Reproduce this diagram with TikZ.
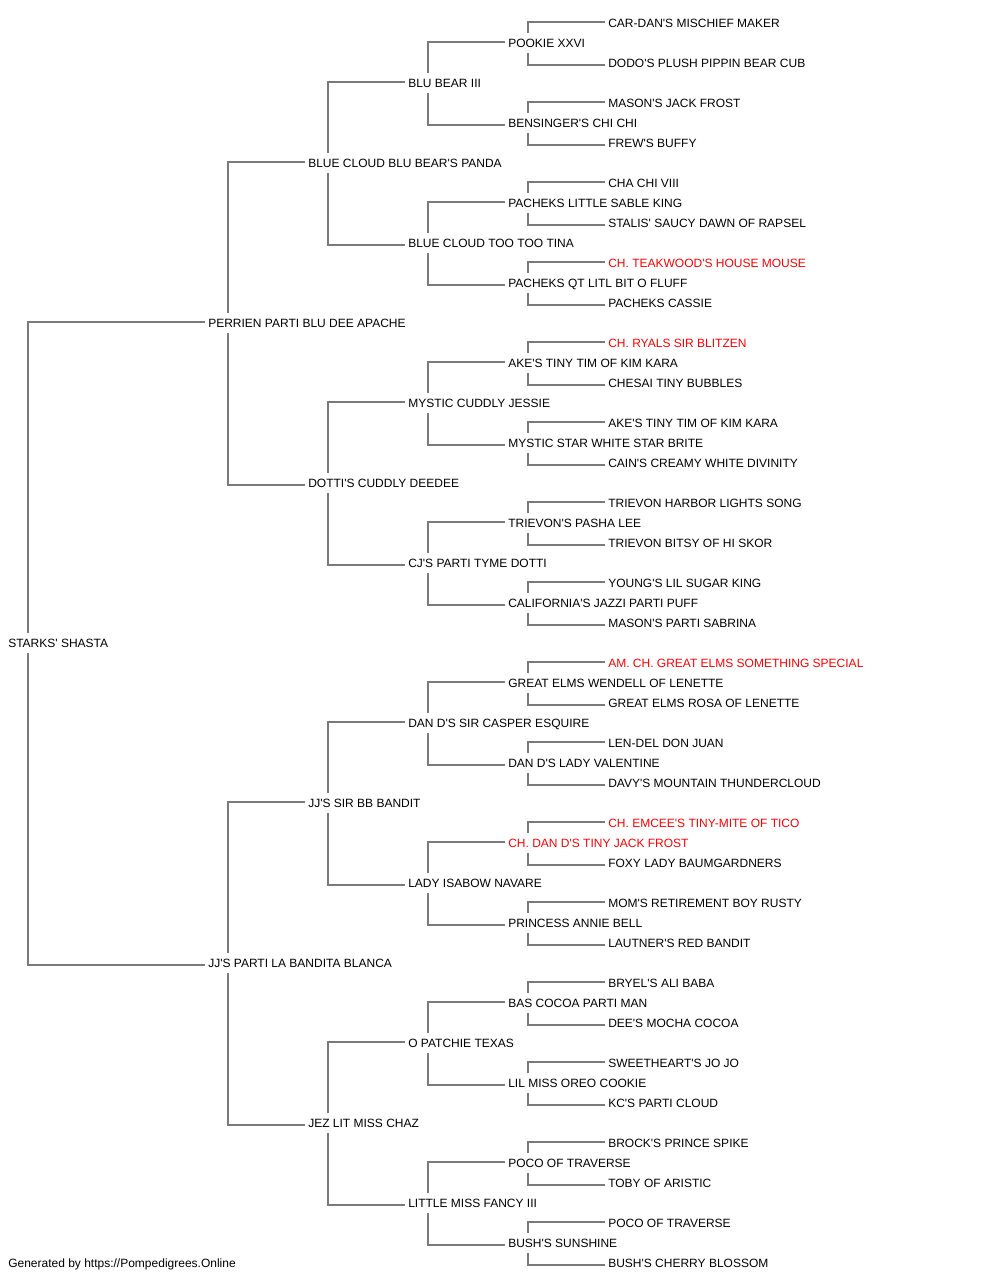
\documentclass[tikz,border=0pt]{standalone}
\usepackage{fontspec}
\setmainfont{Liberation Sans}[Ligatures=TeXOff]
\usetikzlibrary{calc}
\tikzset{
  pname/.style={anchor=west, inner sep=0pt, text height=6.45pt, text depth=0pt, font=\fontsize{9}{10}\selectfont},
  pred/.style={pname, text=red},
  conn/.style={draw=black!52, line width=1.1pt}
}
\begin{document}
\begin{tikzpicture}[x=0.75pt, y=-0.75pt]
\useasboundingbox (0,0) rectangle (1000,1280);
% generation 0
\node[pname] (r) at (8,643) {STARKS' SHASTA};
% generation 1
\node[pname] (r0) at (208,323) {PERRIEN PARTI BLU DEE APACHE};
\node[pname] (r1) at (208,963) {JJ'S PARTI LA BANDITA BLANCA};
% generation 2
\node[pname] (r00) at (308,163) {BLUE CLOUD BLU BEAR'S PANDA};
\node[pname] (r01) at (308,483) {DOTTI'S CUDDLY DEEDEE};
\node[pname] (r10) at (308,803) {JJ'S SIR BB BANDIT};
\node[pname] (r11) at (308,1123) {JEZ LIT MISS CHAZ};
% generation 3
\node[pname] (r000) at (408,83) {BLU BEAR III};
\node[pname] (r001) at (408,243) {BLUE CLOUD TOO TOO TINA};
\node[pname] (r010) at (408,403) {MYSTIC CUDDLY JESSIE};
\node[pname] (r011) at (408,563) {CJ'S PARTI TYME DOTTI};
\node[pname] (r100) at (408,723) {DAN D'S SIR CASPER ESQUIRE};
\node[pname] (r101) at (408,883) {LADY ISABOW NAVARE};
\node[pname] (r110) at (408,1043) {O PATCHIE TEXAS};
\node[pname] (r111) at (408,1203) {LITTLE MISS FANCY III};
% generation 4
\node[pname] (r0000) at (508,43) {POOKIE XXVI};
\node[pname] (r0001) at (508,123) {BENSINGER'S CHI CHI};
\node[pname] (r0010) at (508,203) {PACHEKS LITTLE SABLE KING};
\node[pname] (r0011) at (508,283) {PACHEKS QT LITL BIT O FLUFF};
\node[pname] (r0100) at (508,363) {AKE'S TINY TIM OF KIM KARA};
\node[pname] (r0101) at (508,443) {MYSTIC STAR WHITE STAR BRITE};
\node[pname] (r0110) at (508,523) {TRIEVON'S PASHA LEE};
\node[pname] (r0111) at (508,603) {CALIFORNIA'S JAZZI PARTI PUFF};
\node[pname] (r1000) at (508,683) {GREAT ELMS WENDELL OF LENETTE};
\node[pname] (r1001) at (508,763) {DAN D'S LADY VALENTINE};
\node[pred]  (r1010) at (508,843) {CH. DAN D'S TINY JACK FROST};
\node[pname] (r1011) at (508,923) {PRINCESS ANNIE BELL};
\node[pname] (r1100) at (508,1003) {BAS COCOA PARTI MAN};
\node[pname] (r1101) at (508,1083) {LIL MISS OREO COOKIE};
\node[pname] (r1110) at (508,1163) {POCO OF TRAVERSE};
\node[pname] (r1111) at (508,1243) {BUSH'S SUNSHINE};
% generation 5
\node[pname] (r00000) at (608,23) {CAR-DAN'S MISCHIEF MAKER};
\node[pname] (r00001) at (608,63) {DODO'S PLUSH PIPPIN BEAR CUB};
\node[pname] (r00010) at (608,103) {MASON'S JACK FROST};
\node[pname] (r00011) at (608,143) {FREW'S BUFFY};
\node[pname] (r00100) at (608,183) {CHA CHI VIII};
\node[pname] (r00101) at (608,223) {STALIS' SAUCY DAWN OF RAPSEL};
\node[pred]  (r00110) at (608,263) {CH. TEAKWOOD'S HOUSE MOUSE};
\node[pname] (r00111) at (608,303) {PACHEKS CASSIE};
\node[pred]  (r01000) at (608,343) {CH. RYALS SIR BLITZEN};
\node[pname] (r01001) at (608,383) {CHESAI TINY BUBBLES};
\node[pname] (r01010) at (608,423) {AKE'S TINY TIM OF KIM KARA};
\node[pname] (r01011) at (608,463) {CAIN'S CREAMY WHITE DIVINITY};
\node[pname] (r01100) at (608,503) {TRIEVON HARBOR LIGHTS SONG};
\node[pname] (r01101) at (608,543) {TRIEVON BITSY OF HI SKOR};
\node[pname] (r01110) at (608,583) {YOUNG'S LIL SUGAR KING};
\node[pname] (r01111) at (608,623) {MASON'S PARTI SABRINA};
\node[pred]  (r10000) at (608,663) {AM. CH. GREAT ELMS SOMETHING SPECIAL};
\node[pname] (r10001) at (608,703) {GREAT ELMS ROSA OF LENETTE};
\node[pname] (r10010) at (608,743) {LEN-DEL DON JUAN};
\node[pname] (r10011) at (608,783) {DAVY'S MOUNTAIN THUNDERCLOUD};
\node[pred]  (r10100) at (608,823) {CH. EMCEE'S TINY-MITE OF TICO};
\node[pname] (r10101) at (608,863) {FOXY LADY BAUMGARDNERS};
\node[pname] (r10110) at (608,903) {MOM'S RETIREMENT BOY RUSTY};
\node[pname] (r10111) at (608,943) {LAUTNER'S RED BANDIT};
\node[pname] (r11000) at (608,983) {BRYEL'S ALI BABA};
\node[pname] (r11001) at (608,1023) {DEE'S MOCHA COCOA};
\node[pname] (r11010) at (608,1063) {SWEETHEART'S JO JO};
\node[pname] (r11011) at (608,1103) {KC'S PARTI CLOUD};
\node[pname] (r11100) at (608,1143) {BROCK'S PRINCE SPIKE};
\node[pname] (r11101) at (608,1183) {TOBY OF ARISTIC};
\node[pname] (r11110) at (608,1223) {POCO OF TRAVERSE};
\node[pname] (r11111) at (608,1263) {BUSH'S CHERRY BLOSSOM};
% footer
\node[pname] (foot) at (8,1263) {Generated by https://Pompedigrees.Online};
% connectors
\foreach \p in {r,r0,r1,r00,r01,r10,r11,r000,r001,r010,r011,r100,r101,r110,r111,
  r0000,r0001,r0010,r0011,r0100,r0101,r0110,r0111,r1000,r1001,r1010,r1011,r1100,r1101,r1110,r1111}{
  \draw[conn] ($(\p.west)+(20,-10)$) |- ($(\p0.west)+(-3,-1)$);
  \draw[conn] ($(\p.west)+(20,10)$) |- ($(\p1.west)+(-3,2)$);
}
\end{tikzpicture}
\end{document}
